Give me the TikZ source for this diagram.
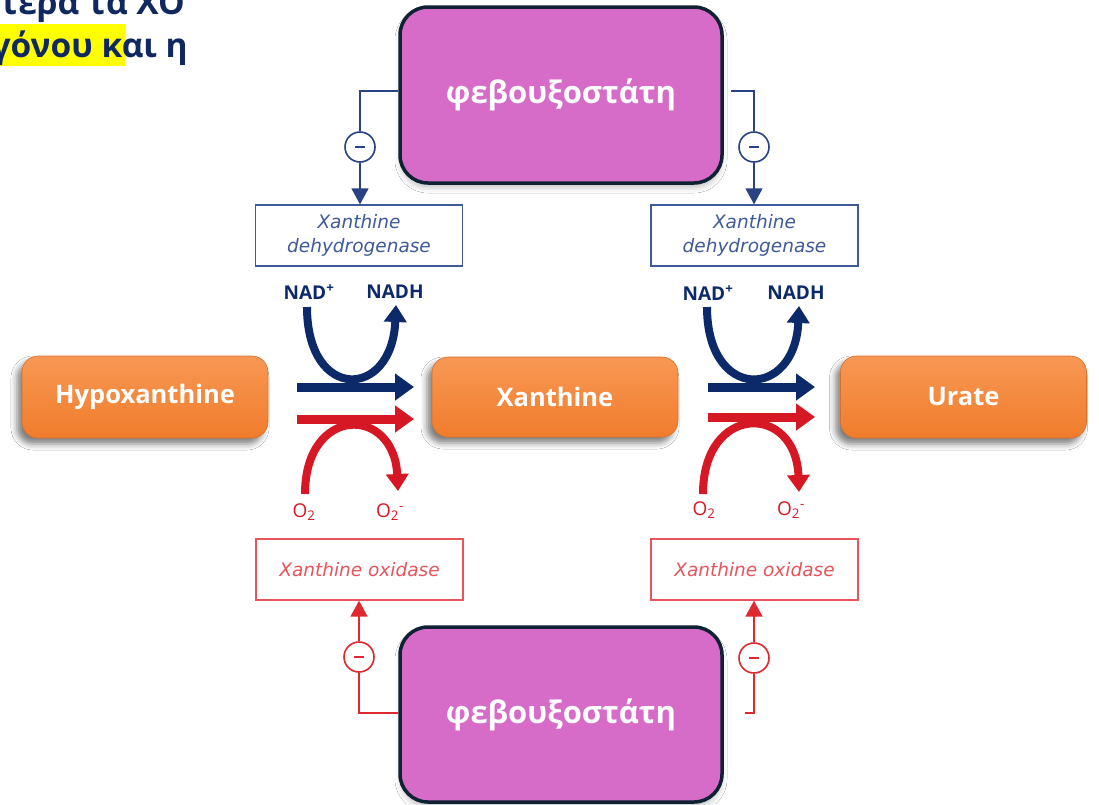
\documentclass[tikz,border=0pt]{standalone}
\usepackage{fontspec}
\setmainfont{Open Sans}
\newfontfamily\enzfont{DejaVu Sans}
\usetikzlibrary{arrows.meta,shadows.blur,calc}

\definecolor{titleblue}{RGB}{16,40,96}
\definecolor{hilite}{RGB}{255,255,0}
\definecolor{navy}{RGB}{12,42,106}
\definecolor{rxnred}{RGB}{214,24,36}
\definecolor{orangebox}{RGB}{240,124,44}
\definecolor{orangetop}{RGB}{248,152,84}
\definecolor{orchid}{RGB}{214,108,200}
\definecolor{boxedge}{RGB}{14,34,52}
\definecolor{enzblue}{RGB}{62,90,152}
\definecolor{enzred}{RGB}{232,84,92}
\definecolor{inhblue}{RGB}{40,66,130}
\definecolor{inhred}{RGB}{224,40,48}

\tikzset{
  titletext/.style={inner sep=0pt, text=titleblue, font=\bfseries\fontsize{33.5}{38}\selectfont},
  drugbox/.style={draw=boxedge, line width=3.5pt, fill=orchid, rounded corners=28pt,
    minimum width=322pt, minimum height=176pt, text=white,
    font=\bfseries\fontsize{31}{36}\selectfont,
    blur shadow={shadow xshift=0pt, shadow yshift=-5pt, shadow blur radius=5pt, shadow opacity=22}},
  substrate/.style={rounded corners=16pt, top color=orangetop, bottom color=orangebox,
    draw=orangebox!90!black, line width=0.6pt,
    minimum width=246pt, minimum height=82pt, text=white,
    font=\bfseries\fontsize{25.5}{30}\selectfont,
    blur shadow={shadow xshift=-5pt, shadow yshift=-6pt, shadow blur radius=6pt, shadow opacity=50}},
  enzbox/.style={draw=#1, line width=1.4pt, fill=white, minimum width=207pt, minimum height=61pt,
    text=#1, align=center, font=\enzfont\itshape\fontsize{18.5}{24}\selectfont},
  inhib/.style={circle, draw=#1, line width=1.6pt, fill=white, minimum size=30pt, inner sep=0pt,
    path picture={\draw[#1, line width=1.8pt]
      ([xshift=-5pt]path picture bounding box.center) -- ([xshift=5pt]path picture bounding box.center);}},
  inhline/.style={draw=#1, line width=1.6pt},
  inharrow/.style={draw=#1, line width=1.6pt, -{Triangle[length=16pt,width=17pt]}},
  rxnline/.style={draw=#1, line width=9pt, -{Triangle[length=19pt,width=26pt]}},
  rxncurve/.style={draw=#1, line width=8pt, -{Triangle[length=17pt,width=22pt]}},
  cofac/.style={inner sep=0pt, text=navy, font=\bfseries\fontsize{19}{22}\selectfont},
  oxlab/.style={inner sep=0pt, text=rxnred, font=\fontsize{19}{22}\selectfont},
}

\begin{document}
\begin{tikzpicture}[x=1pt, y=-1pt]
  \useasboundingbox (0,0) rectangle (1099,804);
  \clip (0,0) rectangle (1099,804);
  \fill[white] (0,0) rectangle (1099,804);

  % heading lines running off the upper-left corner
  \fill[hilite] (0,24) rectangle (125,66);
  \node[titletext, anchor=base east] (head1) at (185,14) {τερα τα ΧΟ};
  \node[titletext, anchor=base east] (head2) at (188,57) {γόνου και η};

  % substrates
  \node[substrate] (hypo) at (145,397) {Hypoxanthine};
  \node[substrate, minimum height=80pt] (xan) at (555,397) {Xanthine};
  \node[substrate] (urate) at (963.5,397) {Urate};

  % enzymes
  \node[enzbox=enzblue] (xdhL) at (359,235.5) {Xanthine\\dehydrogenase};
  \node[enzbox=enzblue] (xdhR) at (754.5,235.5) {Xanthine\\dehydrogenase};
  \node[enzbox=enzred] (xoL) at (359.5,569.5) {Xanthine oxidase};
  \node[enzbox=enzred] (xoR) at (754.5,569.5) {Xanthine oxidase};

  % inhibitor boxes
  \node[drugbox] (fbtop) at (561,95) {φεβουξοστάτη};
  \node[drugbox, minimum height=175pt] (fbbot) at (561,714.5) {φεβουξοστάτη};

  % inhibition symbols
  \node[inhib=inhblue] (iTL) at (360,147) {};
  \node[inhib=inhblue] (iTR) at (754,147) {};
  \node[inhib=inhred] (iBL) at (359,657) {};
  \node[inhib=inhred] (iBR) at (754,658) {};

  \coordinate (elbTL) at (360,91);
  \coordinate (startTR) at (731,91);
  \coordinate (elbBL) at (359,713);
  \coordinate (startBR) at (745,713);

  % inhibition connectors
  \draw[inhline=inhblue] (fbtop.west |- elbTL) -- (elbTL) -- (iTL);
  \draw[inharrow=inhblue] (iTL) -- (iTL |- xdhL.north);
  \draw[inhline=inhblue] (startTR) -- (iTR |- startTR) -- (iTR);
  \draw[inharrow=inhblue] (iTR) -- (iTR |- xdhR.north);
  \draw[inhline=inhred] (fbbot.west |- elbBL) -- (elbBL) -- (iBL);
  \draw[inharrow=inhred] (iBL) -- (iBL |- xoL.south);
  \draw[inhline=inhred] (startBR) -- (iBR |- startBR) -- (iBR);
  \draw[inharrow=inhred] (iBR) -- (iBR |- xoR.south);

  % cofactor labels
  \node[cofac] (nadL) at (309,292) {NAD\textsuperscript{+}};
  \node[cofac] (nadhL) at (395,292) {NADH};
  \node[cofac] (nadR) at (708,293) {NAD\textsuperscript{+}};
  \node[cofac] (nadhR) at (796,293) {NADH};
  \node[oxlab] (o2L) at (304,512) {O\textsubscript{2}};
  \node[oxlab] (o2mL) at (390,512) {O\textsubscript{2}\textsuperscript{-}};
  \node[oxlab] (o2R) at (704,510) {O\textsubscript{2}};
  \node[oxlab] (o2mR) at (791,510) {O\textsubscript{2}\textsuperscript{-}};

  % reaction arrow end points
  \coordinate (bLs) at (297,387);  \coordinate (bLe) at (414,387);
  \coordinate (rLs) at (297,419);  \coordinate (rLe) at (414,419);
  \coordinate (bRs) at (708,387);  \coordinate (bRe) at (815,387);
  \coordinate (rRs) at (708,417);  \coordinate (rRe) at (815,417);
  \coordinate (cNadL) at (307,307);  \coordinate (cNadhL) at (396,305);
  \coordinate (cO2L) at (305,494);   \coordinate (cO2mL) at (398,491);
  \coordinate (cNadR) at (707,307);  \coordinate (cNadhR) at (799,306);
  \coordinate (cO2R) at (703,494);   \coordinate (cO2mR) at (799,492);

  % hypoxanthine -> xanthine
  \draw[rxnline=navy] (bLs) -- (bLe);
  \draw[rxnline=rxnred] (rLs) -- (rLe);
  \draw[rxncurve=navy] (cNadL) .. controls (307,402) and (392,400) .. (cNadhL);
  \draw[rxncurve=rxnred] (cO2L) .. controls (305,405) and (394,405) .. (cO2mL);

  % xanthine -> urate
  \draw[rxnline=navy] (bRs) -- (bRe);
  \draw[rxnline=rxnred] (rRs) -- (rRe);
  \draw[rxncurve=navy] (cNadR) .. controls (707,402) and (795,400) .. (cNadhR);
  \draw[rxncurve=rxnred] (cO2R) .. controls (703,403) and (796,403) .. (cO2mR);
\end{tikzpicture}
\end{document}
